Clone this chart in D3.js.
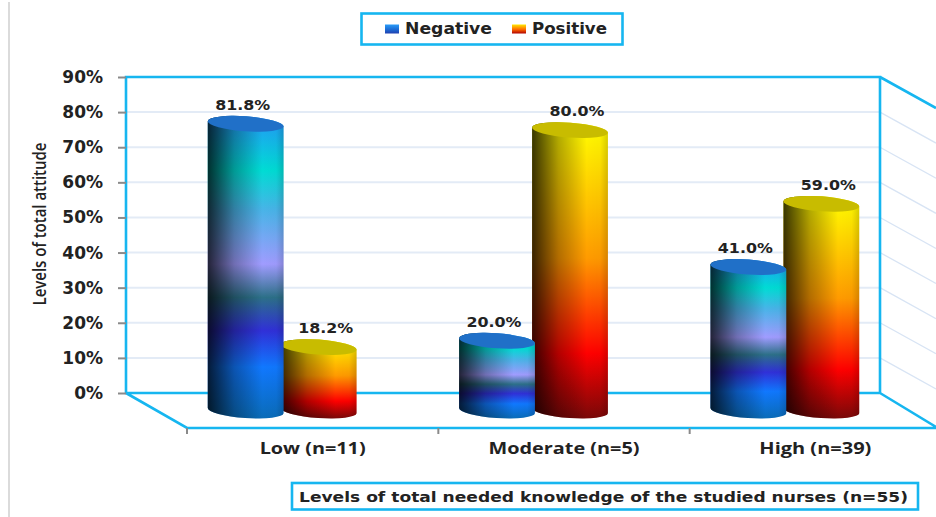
<!DOCTYPE html>
<html>
<head>
<meta charset="utf-8">
<script src="https://cdn.jsdelivr.net/npm/d3@7"></script>
<style>
html,body{margin:0;padding:0;background:#fff}
svg{display:block}
text{font-family:"DejaVu Sans",sans-serif;fill:#222;font-weight:700}
</style>
</head>
<body>
<svg id="chart" width="936" height="517"></svg>
<script>
// Chart content
const categories = ["Low (n=11)", "Moderate (n=5)", "High (n=39)"];
const seriesNames = ["Negative", "Positive"];
const negativeValues = [81.8, 20.0, 41.0];
const positiveValues = [18.2, 80.0, 59.0];
const yTicks = [0, 10, 20, 30, 40, 50, 60, 70, 80, 90];
const yTitle = "Levels of total attitude";
const xTitle = "Levels of total needed knowledge of the studied nurses (n=55)";

const CYAN = "#16b6f0", GRID = "#e3ebf6", SIDE_GRID = "#d8e4f4", TICK = "#8a8a8a";
const svg = d3.select("#chart");

// Scales of the back wall; the floor is a sheared copy shifted by a depth vector
const y = d3.scaleLinear().domain([0, 90]).range([393, 77]);
const x = d3.scaleBand().domain(categories).range([126, 880]);
const series = d3.scaleBand().domain(seriesNames).range([-72, 72]);
const floorDepth = {x: 61, y: 35};
const barDepth = {x: 30, y: 17};
const sideDepth = {x: 56, y: 31};
const barRx = 38, barRy = 7.5, tilt = 4 * Math.PI / 180;

// Gradients
const defs = svg.append("defs");
function linear(id, x2, y2, stops) {
  const g = defs.append("linearGradient").attr("id", id)
    .attr("x1", 0).attr("y1", 0).attr("x2", x2).attr("y2", y2);
  g.selectAll("stop").data(stops).join("stop")
    .attr("offset", d => d[0]).attr("stop-color", d => d[1])
    .attr("stop-opacity", d => d[2] === undefined ? 1 : d[2]);
}
linear("negBody", 0, 1, [
  [0, "#2496f8"], [0.18, "#00dcd4"], [0.31, "#48b4e8"], [0.49, "#a09cff"],
  [0.60, "#2c7088"], [0.71, "#3030d8"], [0.83, "#1078ff"], [1, "#0a6cb8"]
]);
linear("posBody", 0, 1, [
  [0, "#ffff00"], [0.46, "#ff9a00"], [0.78, "#ff0000"], [1, "#7a0808"]
]);
linear("roundShade", 1, 0, [
  [0, "#000", 0.78], [0.35, "#000", 0.3], [0.72, "#000", 0], [0.9, "#000", 0.02], [1, "#000", 0.16]
]);
linear("negKey", 0, 1, [[0, "#2a9cf8"], [0.5, "#1c70d8"], [1, "#2040b0"]]);
linear("posKey", 0, 1, [[0, "#ffe800"], [0.55, "#ff6a00"], [1, "#b00000"]]);

// Page rule on the far left
svg.append("line").attr("x1", 9).attr("x2", 9).attr("y1", 2).attr("y2", 517)
  .attr("stroke", "#cfcfcf").attr("stroke-width", 1.5);

// Horizontal grid on the back wall and its continuation on the side wall
const grid = svg.append("g").attr("fill", "none");
const inner = yTicks.filter(t => t > 0 && t < 90);
grid.selectAll(".back").data(inner).join("line").attr("class", "back")
  .attr("x1", x.range()[0]).attr("x2", x.range()[1])
  .attr("y1", d => y(d)).attr("y2", d => y(d))
  .attr("stroke", GRID).attr("stroke-width", 2);
grid.selectAll(".side").data(inner).join("line").attr("class", "side")
  .attr("x1", x.range()[1]).attr("x2", x.range()[1] + sideDepth.x)
  .attr("y1", d => y(d)).attr("y2", d => y(d) + sideDepth.y)
  .attr("stroke", SIDE_GRID).attr("stroke-width", 1.3);

// Box outline: back wall, floor and side wall edges
const [L, R] = x.range();
const frame = d3.path();
frame.moveTo(L, y(0)); frame.lineTo(L, y(90)); frame.lineTo(R, y(90)); frame.lineTo(R, y(0)); frame.closePath();
frame.moveTo(L, y(0)); frame.lineTo(L + floorDepth.x, y(0) + floorDepth.y); frame.lineTo(R + floorDepth.x, y(0) + floorDepth.y);
frame.moveTo(R, y(0)); frame.lineTo(R + sideDepth.x, y(0) + floorDepth.y - 1);
frame.moveTo(R, y(90)); frame.lineTo(R + sideDepth.x, y(90) + sideDepth.y);
svg.append("path").attr("d", frame.toString()).attr("fill", "none")
  .attr("stroke", CYAN).attr("stroke-width", 2.6);

// Value axis
const yAxis = svg.append("g").attr("transform", `translate(${L},0)`)
  .call(d3.axisLeft(y).tickValues(yTicks).tickFormat(d => d + "%").tickSize(8).tickPadding(15));
yAxis.select(".domain").remove();
yAxis.selectAll("line").attr("stroke", TICK).attr("stroke-width", 2);
yAxis.selectAll("text").style("font-size", "17px").attr("fill", "#222");

// Category axis along the front edge of the floor
const xFront = x.copy().range([L + floorDepth.x, R + floorDepth.x]);
const xAxis = svg.append("g").attr("transform", `translate(0,${y(0) + floorDepth.y})`)
  .call(d3.axisBottom(xFront).tickSize(0).tickPadding(15));
xAxis.select(".domain").remove();
const labelWidths = d3.scaleOrdinal().domain(categories).range([106, 151, 112]);
xAxis.selectAll("text").style("font-family", "'Open Sans',sans-serif").style("font-size", "15.5px")
  .style("font-weight", 700).attr("fill", "#222")
  .attr("textLength", d => labelWidths(d)).attr("lengthAdjust", "spacingAndGlyphs");
svg.append("g").selectAll("line").data(categories).join("line")
  .attr("x1", d => xFront(d)).attr("x2", d => xFront(d))
  .attr("y1", y(0) + floorDepth.y).attr("y2", y(0) + floorDepth.y + 6)
  .attr("stroke", TICK).attr("stroke-width", 2);

// Cylinder outline built from a base and a top ellipse
function cylinderPath(cx, yTop, yBase) {
  const dx = barRx * Math.cos(tilt), dy = barRx * Math.sin(tilt), deg = tilt * 180 / Math.PI;
  return `M${cx - dx},${yTop - dy}` +
    `L${cx - dx},${yBase - dy}` +
    `A${barRx},${barRy} ${deg} 0 0 ${cx + dx},${yBase + dy}` +
    `L${cx + dx},${yTop + dy}` +
    `A${barRx},${barRy} ${deg} 0 0 ${cx - dx},${yTop - dy}Z`;
}

// Positive bars sit behind the negative ones, so they are drawn first
const barRows = [
  {name: "Positive", values: positiveValues, body: "posBody", cap: "#c8bc00", nudge: 1, labelNudge: 7},
  {name: "Negative", values: negativeValues, body: "negBody", cap: "#2070c8", nudge: 0, labelNudge: -3}
];

barRows.forEach(row => {
  const g = svg.append("g");
  categories.forEach((c, i) => {
    const v = row.values[i];
    const cx = x(c) + x.bandwidth() / 2 + barDepth.x + series(row.name) + series.bandwidth() / 2 + row.nudge;
    const yBase = y(0) + barDepth.y + 0.5;
    const yTop = y(v) + barDepth.y + 1;
    const d = cylinderPath(cx, yTop, yBase);
    g.append("path").attr("d", d).attr("fill", `url(#${row.body})`);
    g.append("path").attr("d", d).attr("fill", "url(#roundShade)");
    g.append("ellipse").attr("rx", barRx).attr("ry", barRy)
      .attr("transform", `translate(${cx},${yTop}) rotate(${tilt * 180 / Math.PI})`)
      .attr("fill", row.cap);
    g.append("text").attr("x", cx + row.labelNudge).attr("y", yTop - 19).attr("dy", "0.35em")
      .attr("text-anchor", "middle").style("font-size", "13.5px").attr("fill", "#222")
      .attr("textLength", 55).attr("lengthAdjust", "spacingAndGlyphs")
      .text(v.toFixed(1) + "%");
  });
});

// Value axis title
svg.append("text").attr("transform", "translate(40,224) rotate(-90)")
  .attr("text-anchor", "middle").attr("dy", "0.35em")
  .attr("textLength", 163).attr("lengthAdjust", "spacingAndGlyphs")
  .style("font-family", "'Open Sans',sans-serif").style("font-size", "18px").style("font-weight", 600)
  .text(yTitle);

// Legend
const legend = svg.append("g");
legend.append("rect").attr("x", 361.5).attr("y", 13.5).attr("width", 261).attr("height", 31)
  .attr("fill", "#fff").attr("stroke", CYAN).attr("stroke-width", 2.6);
const legendX = d3.scalePoint().domain(seriesNames).range([385, 512]);
const legendWidths = d3.scaleOrdinal().domain(seriesNames).range([87, 75]);
seriesNames.forEach((n, i) => {
  legend.append("rect").attr("x", legendX(n)).attr("y", 24.5).attr("width", 14).attr("height", 9)
    .attr("fill", i === 0 ? "url(#negKey)" : "url(#posKey)");
  legend.append("text").attr("x", legendX(n) + 20).attr("y", 28.5).attr("dy", "0.35em")
    .attr("textLength", legendWidths(n)).attr("lengthAdjust", "spacingAndGlyphs")
    .style("font-size", "15px").text(n);
});

// Axis caption box
svg.append("rect").attr("x", 292).attr("y", 483).attr("width", 626).attr("height", 26.5)
  .attr("fill", "#fff").attr("stroke", CYAN).attr("stroke-width", 2.6);
svg.append("text").attr("x", 299).attr("y", 496.5).attr("dy", "0.35em")
  .attr("textLength", 609).attr("lengthAdjust", "spacingAndGlyphs")
  .style("font-size", "14.5px").text(xTitle);
</script>
</body>
</html>
